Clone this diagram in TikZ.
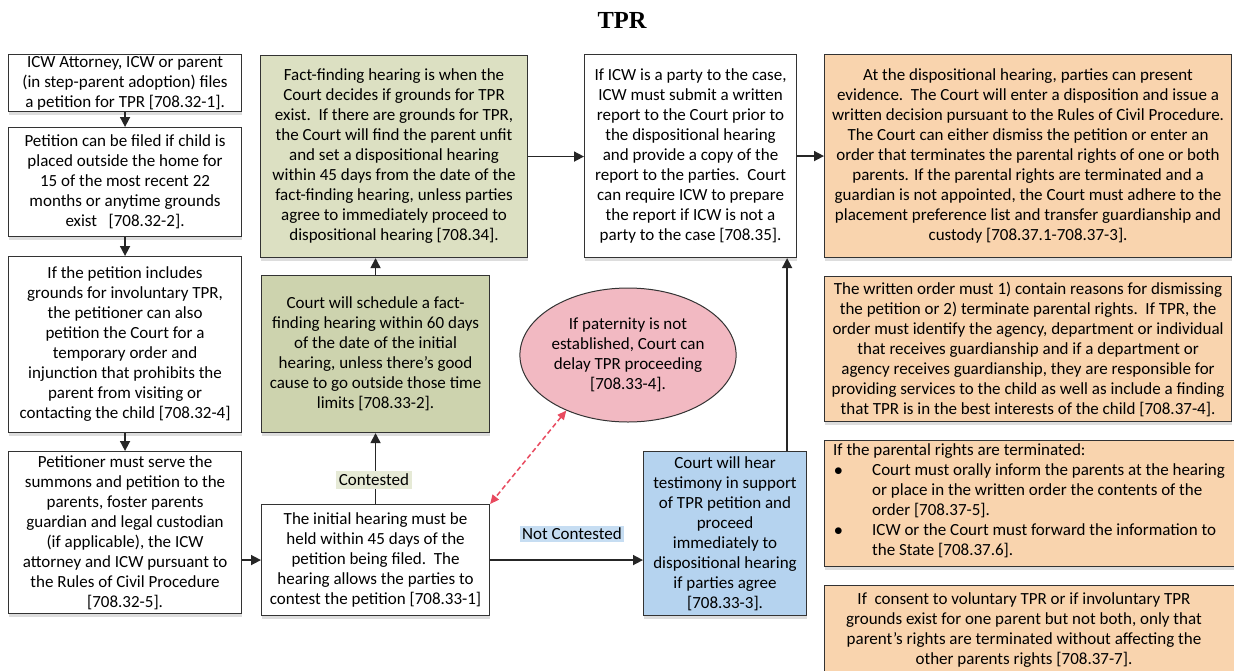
\documentclass[tikz,border=0pt]{standalone}
\usepackage{fontspec}
\setmainfont{Carlito}
\newfontfamily\titlef{Liberation Serif}
\usetikzlibrary{arrows.meta,shapes.geometric,shadows}
\definecolor{bordc}{HTML}{333333}
\definecolor{arrc}{HTML}{262626}
\definecolor{greenA}{HTML}{DCE0C2}
\definecolor{greenB}{HTML}{CDD3AE}
\definecolor{orangeF}{HTML}{F9D4AE}
\definecolor{blueF}{HTML}{B5D3EF}
\definecolor{pinkF}{HTML}{F2B9C2}
\definecolor{redD}{HTML}{E84A5F}
\definecolor{contF}{HTML}{E6EAD6}
\definecolor{ncontF}{HTML}{C6DDF2}
\definecolor{shadowc}{HTML}{BBBBBB}
\begin{document}
\begin{tikzpicture}[x=1pt,y=-1pt,
  box/.style={draw=bordc, line width=1.1pt, fill=white, align=center, inner sep=0pt,
    anchor=north west, font=\fontsize{17}{20}\selectfont,
    drop shadow={shadow xshift=0pt, shadow yshift=-3pt, fill=shadowc, opacity=0.5}},
  txt/.style={align=center, inner sep=0pt, font=\fontsize{17}{20}\selectfont},
  arr/.style={draw=arrc, line width=1.6pt, -{Triangle[length=10pt,width=10pt]}},
  lbl/.style={inner sep=3pt, font=\fontsize{17}{20}\selectfont}
]
\useasboundingbox (0,0) rectangle (1234,670);
\clip (0,0) rectangle (1234,670);

\node[font=\titlef\bfseries\fontsize{24.5}{28}\selectfont] (title) at (622,20) {TPR};

% left column
\node[box, minimum width=233pt, minimum height=57pt] (A1) at (8,54)
 {ICW Attorney, ICW or parent\\(in step-parent adoption) files\\a petition for TPR [708.32-1].};
\node[box, minimum width=233pt, minimum height=109pt] (A2) at (8,127)
 {Petition can be filed if child is\\placed outside the home for\\15 of the most recent 22\\months or anytime grounds\\exist\ \ \ [708.32-2].};
\node[box, minimum width=233pt, minimum height=176pt] (A3) at (8,256)
 {If the petition includes\\grounds for involuntary TPR,\\the petitioner can also\\petition the Court for a\\temporary order and\\injunction that prohibits the\\parent from visiting or\\contacting the child [708.32-4]};
\node[box, minimum width=233pt, minimum height=162pt] (A4) at (8,451)
 {Petitioner must serve the\\summons and petition to the\\parents, foster parents\\guardian and legal custodian\\(if applicable), the ICW\\attorney and ICW pursuant to\\the Rules of Civil Procedure\\{}[708.32-5].};

% second column
\node[box, fill=greenA, minimum width=267pt, minimum height=202pt] (B1) at (260,55)
 {Fact-finding hearing is when the\\Court decides if grounds for TPR\\exist.\ \ If there are grounds for TPR,\\the Court will find the parent unfit\\and set a dispositional hearing\\within 45 days from the date of the\\fact-finding hearing, unless parties\\agree to immediately proceed to\\dispositional hearing [708.34].};
\node[box, fill=greenB, minimum width=228pt, minimum height=157pt] (B2) at (261,275)
 {Court will schedule a fact-\\finding hearing within 60 days\\of the date of the initial\\hearing, unless there’s good\\cause to go outside those time\\limits [708.33-2].};
\node[box, minimum width=228pt, minimum height=111pt] (B3) at (261,504)
 {The initial hearing must be\\held within 45 days of the\\petition being filed.\ \ The\\hearing allows the parties to\\contest the petition [708.33-1]};

% ellipse
\node[ellipse, draw=bordc, line width=1pt, fill=pinkF, minimum width=202pt, minimum height=134pt,
  inner sep=0pt, align=center, font=\fontsize{17}{20}\selectfont] (E0) at (628,355)
 {If paternity is not\\established, Court can\\delay TPR proceeding\\{}[708.33-4].};

% blue box
\node[box, fill=blueF, minimum width=163pt, minimum height=164pt] (C) at (643,451)
 {Court will hear\\testimony in support\\of TPR petition and\\proceed\\immediately to\\dispositional hearing\\if parties agree\\{}[708.33-3].};

% third column
\node[box, minimum width=212pt, minimum height=203pt] (D) at (584,54)
 {If ICW is a party to the case,\\ICW must submit a written\\report to the Court prior to\\the dispositional hearing\\and provide a copy of the\\report to the parties.\ \ Court\\can require ICW to prepare\\the report if ICW is not a\\party to the case [708.35].};

% right column
\node[box, fill=orangeF, minimum width=407pt, minimum height=203pt] (E) at (824,54)
 {At the dispositional hearing, parties can present\\evidence.\ \ The Court will enter a disposition and issue a\\written decision pursuant to the Rules of Civil Procedure.\\The Court can either dismiss the petition or enter an\\order that terminates the parental rights of one or both\\parents. If the parental rights are terminated and a\\guardian is not appointed, the Court must adhere to the\\placement preference list and transfer guardianship and\\custody [708.37.1-708.37-3].};
\node[box, fill=orangeF, minimum width=407pt, minimum height=145pt] (F) at (824,276)
 {The written order must 1) contain reasons for dismissing\\the petition or 2) terminate parental rights.\ \ If TPR, the\\order must identify the agency, department or individual\\that receives guardianship and if a department or\\agency receives guardianship, they are responsible for\\providing services to the child as well as include a finding\\that TPR is in the best interests of the child [708.37-4].};
\node[box, fill=orangeF, minimum width=420pt, minimum height=126pt] (G) at (824,440) {};
\node[txt, align=left, anchor=north west] (Gt) at (833,443)
 {If the parental rights are terminated:\\
  \makebox[39pt][l]{\hspace*{1pt}$\bullet$}Court must orally inform the parents at the hearing\\
  \hspace*{39pt}or place in the written order the contents of the\\
  \hspace*{39pt}order [708.37-5].\\
  \makebox[39pt][l]{\hspace*{1pt}$\bullet$}ICW or the Court must forward the information to\\
  \hspace*{39pt}the State [708.37.6].};
\node[box, fill=orangeF, minimum width=420pt, minimum height=92pt] (H) at (824,585) {};
\node[txt] (Ht) at (1024,630)
 {If\ \ consent to voluntary TPR or if involuntary TPR\\grounds exist for one parent but not both, only that\\parent’s rights are terminated without affecting the\\other parents rights [708.37-7].};

% connectors
\draw[arr] (A1.south) -- (A2.north);
\draw[arr] (A2.south) -- (A3.north);
\draw[arr] (A3.south) -- (A4.north);
\draw[arr] (A4.east |- B3.west) -- (B3.west);
\draw[arr] (B3.north) -- (B2.south);
\node[lbl, fill=contF] (lc) at (374,480) {Contested};
\draw[arr] (B2.north) -- (B2.north |- B1.south);
\draw[arr] (B1.east) -- (B1.east -| D.west);
\draw[arr] (D.east) -- (D.east -| E.west);
\draw[arr] (B3.east) -- (B3.east -| C.west);
\node[lbl, fill=ncontF, inner sep=2pt] (ln) at (572,534) {Not Contested};
\path ([xshift=-20pt]C.north east) coordinate (cup);
\draw[arr] (cup) -- (cup |- D.south);
\draw[draw=redD, line width=1.5pt, dash pattern=on 5pt off 3pt,
  {Triangle[length=9pt,width=8pt,fill=redD]}-{Triangle[length=9pt,width=8pt,fill=redD]}]
  (E0.222) -- (B3.north east);
\end{tikzpicture}
\end{document}
